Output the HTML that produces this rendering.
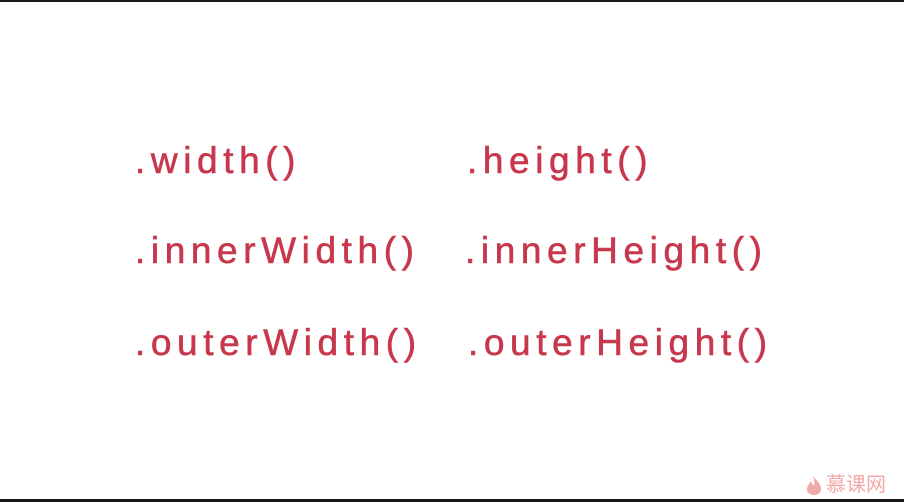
<!DOCTYPE html>
<html><head><meta charset="utf-8"><style>
html,body{margin:0;padding:0;}
body{width:904px;height:502px;background:#fff;position:relative;overflow:hidden;}
.t{position:absolute;font-family:"Liberation Sans",sans-serif;font-size:37px;line-height:1;color:#c8384d;letter-spacing:5.6px;white-space:nowrap;-webkit-text-stroke:0.6px #c8384d;}
.top{position:absolute;left:0;top:0;width:904px;height:2px;background:#141a1a;}
.bot{position:absolute;left:0;top:499px;width:904px;height:3px;background:#141a1a;}
.logo{position:absolute;left:826px;top:475px;font-family:"Liberation Sans","Noto Sans CJK SC",sans-serif;font-size:20px;line-height:1;color:#f0a8a8;white-space:nowrap;}
</style></head><body>
<div class="top"></div>
<div class="t" style="left:135px;top:142px">.width()</div>
<div class="t" style="left:467px;top:142px">.height()</div>
<div class="t" style="left:135px;top:232px">.innerWidth()</div>
<div class="t" style="left:465px;top:232px">.innerHeight()</div>
<div class="t" style="left:135px;top:324px">.outerWidth()</div>
<div class="t" style="left:468px;top:324px">.outerHeight()</div>
<svg style="position:absolute;left:805px;top:474px" width="18" height="22" viewBox="0 0 18 22"><path d="M8 1 C10 6 16 9 16 15 C16 19 13 21 9 21 C5 21 2 19 2 15 C2 11 5 10 6 7 C7 10 8 11 9 12 C10 9 9 5 8 1 Z" fill="#f0a8a8"/></svg>
<div class="logo">慕课网</div>
<div class="bot"></div>
</body></html>
